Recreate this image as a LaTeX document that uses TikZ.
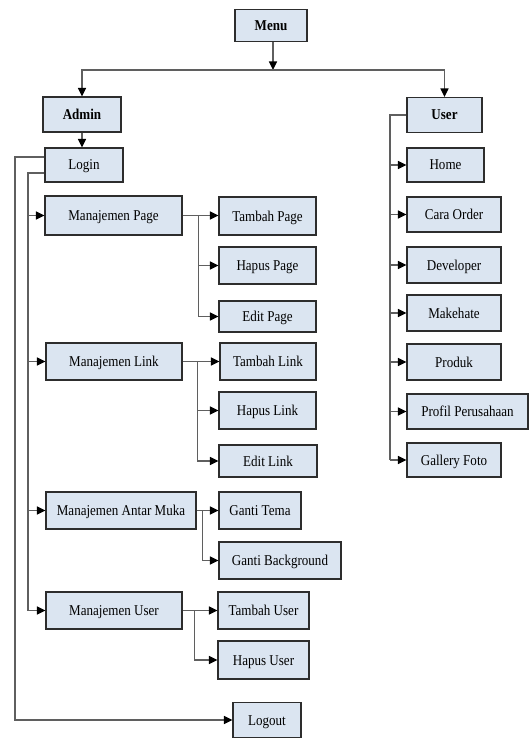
\documentclass[tikz,border=0pt]{standalone}
\usepackage{fontspec}
\setmainfont{Liberation Serif}[FakeStretch=0.87]
\usepackage{tikz}
\usetikzlibrary{arrows.meta}
\definecolor{boxfill}{RGB}{219,229,241}
\definecolor{boxline}{RGB}{45,45,45}
\definecolor{linegray}{RGB}{95,95,95}

\begin{document}
\begin{tikzpicture}[x=1pt,y=-1pt,
    menubox/.style={draw=boxline, line width=1.2pt, fill=boxfill, inner sep=0pt,
        text height=12pt, text depth=2pt, font=\fontsize{15}{17}\selectfont},
    trunk/.style={draw=linegray, line width=1.4pt},
    conn/.style={trunk, -{Triangle[length=8.5pt,width=8pt,color=black]}}]
    \useasboundingbox (0,0) rectangle (529,738);

    % top level
    \node[menubox, minimum width=72pt, minimum height=32pt] (menu) at (271,25.5) {\textbf{Menu}};
    \node[menubox, minimum width=78pt, minimum height=35pt] (admin) at (82,114.5) {\textbf{Admin}};
    \node[menubox, minimum width=75pt, minimum height=35pt] (user) at (444.5,115) {\textbf{User}};
    \coordinate (bar) at (273,70);
    \draw[conn] (menu.south -| bar) -- (bar);
    \draw[conn] (bar) -| (admin);
    \draw[conn] (bar) -| (user);

    % admin side
    \node[menubox, minimum width=78pt, minimum height=34pt] (login) at (84,165) {Login};
    \draw[conn] (admin.south) -- (admin.south |- login.north);
    \foreach \name/\x/\y/\w/\h/\txt in {
        mpage/113.5/215.5/137/39/Manajemen Page,
        tpage/267.5/216/97/38/Tambah Page,
        hpage/267.5/265.5/97/37/Hapus Page,
        epage/267.5/316.5/97/31/Edit Page,
        mlink/114/361.5/136/37/Manajemen Link,
        tlink/268/361.5/96/37/Tambah Link,
        hlink/267.5/410.5/97/37/Hapus Link,
        elink/268/461/98/32/Edit Link,
        mui/121/510.5/150/37/Manajemen Antar Muka,
        gtema/260/510.5/82/37/Ganti Tema,
        gbg/280/560.5/122/37/Ganti Background,
        muser/114/610.5/136/37/Manajemen User,
        tuser/263.5/610.5/91/37/Tambah User,
        huser/263.5/660/91/38/Hapus User,
        logout/267/720/68/35/Logout}
        \node[menubox, minimum width=\w pt, minimum height=\h pt] (\name) at (\x,\y) {\txt};

    \coordinate (outer) at (15,0);
    \coordinate (inner) at (28,0);
    \draw[conn] ([yshift=8pt]login.west) -| (outer |- logout) -- (logout);
    \draw[trunk] ([yshift=-8pt]login.west) -| (inner |- muser);
    \foreach \n in {mpage,mlink,mui,muser}
        \draw[conn] (inner |- \n) -- (\n);

    \foreach \m/\s/\a/\b/\c in {mpage/16/tpage/hpage/epage, mlink/15/tlink/hlink/elink}{
        \draw[conn] (\m.east) -- (\m.east -| \a.west);
        \draw[conn] ([xshift=\s pt]\m.east) |- (\b);
        \draw[conn] ([xshift=\s pt]\m.east) |- (\c);
    }
    \draw[conn] (mui.east) -- (mui.east -| gtema.west);
    \draw[conn] ([xshift=6pt]mui.east) |- (gbg);
    \draw[conn] (muser.east) -- (muser.east -| tuser.west);
    \draw[conn] ([xshift=12pt]muser.east) |- (huser);

    % user side
    \node[menubox, minimum width=77pt, minimum height=34pt] (home) at (445.5,165) {Home};
    \node[menubox, minimum width=121pt, minimum height=35pt] (profil) at (467.5,411.5) {Profil Perusahaan};
    \foreach \name/\y/\h/\txt in {cara/214.5/35/Cara Order, dev/265/36/Developer,
        make/313/36/Makehate, produk/362/36/Produk, gallery/460/34/Gallery Foto}
        \node[menubox, minimum width=94pt, minimum height=\h pt] (\name) at (454,\y) {\txt};

    \coordinate (ux) at (390,0);
    \draw[trunk] (user.west) -| (ux |- gallery);
    \foreach \n in {home,cara,dev,make,produk,profil,gallery}
        \draw[conn] (ux |- \n) -- (\n.west |- \n);
\end{tikzpicture}
\end{document}
